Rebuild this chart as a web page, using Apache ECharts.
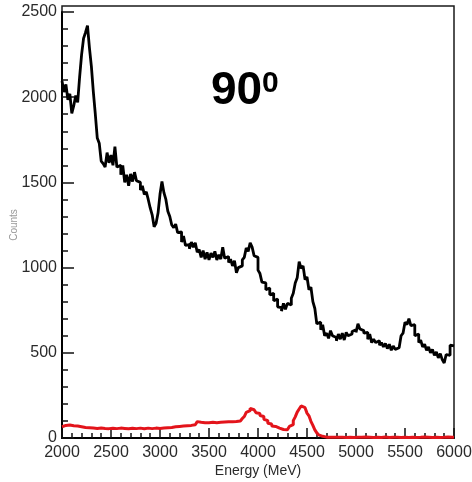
<!DOCTYPE html>
<html>
<head>
<meta charset="utf-8">
<script src="https://cdn.jsdelivr.net/npm/echarts@6/dist/echarts.min.js"></script>
<style>
  html, body { margin: 0; padding: 0; background: #ffffff; }
  #chart { width: 472px; height: 482px; }
</style>
</head>
<body>
<div id="chart"></div>
<script>
// Energy spectrum at 90 degrees: histogram bins of 20 MeV from 2000 to 6000 MeV.
const BIN_START = 2000;
const BIN_WIDTH = 20;

// All events (black), one value per bin
const totalCounts = [
  2095, 2030, 2075, 1985, 2020, 1905, 1950, 2010, 1970, 2120,
  2250, 2345, 2380, 2420, 2290, 2180, 2030, 1900, 1760, 1730,
  1625, 1610, 1590, 1675, 1615, 1660, 1600, 1710, 1590, 1600,
  1545, 1600, 1500, 1545, 1480, 1550, 1505, 1560, 1510, 1500,
  1455, 1480, 1430, 1445, 1400, 1350, 1310, 1240, 1260, 1320,
  1430, 1505, 1440, 1400, 1330, 1300, 1250, 1235, 1255, 1205,
  1210, 1150, 1185, 1130, 1135, 1110, 1150, 1120, 1145, 1090,
  1105, 1060, 1100, 1050, 1090, 1045, 1085, 1060, 1095, 1045,
  1075, 1050, 1120, 1055, 1065, 1030, 1050, 1010, 1040, 970,
  1000, 1010, 1045, 1060, 1115, 1095, 1145, 1120, 1070, 1060,
  985, 965, 915, 910, 870, 880, 840, 850, 805, 815,
  770, 765, 745, 790, 755, 790, 780, 820, 850, 910,
  940, 1035, 995, 1010, 930, 945, 870, 885, 800, 760,
  670, 680, 635, 665, 600, 615, 585, 630, 600, 590,
  570, 610, 580, 615, 575, 620, 600, 610, 625, 635,
  620, 670, 640, 630, 615, 620, 580, 610, 560, 580,
  560, 570, 545, 560, 535, 555, 525, 550, 515, 540,
  520, 530, 525, 600, 615, 680, 665, 700, 660, 665,
  600, 610, 560, 575, 535, 550, 515, 535, 500, 520,
  485, 505, 470, 495, 460, 440, 490, 485, 545, 540
];

// Selected events (red), one value per bin
const selectedCounts = [
  66, 74, 64, 76, 80, 72, 82, 70, 74, 66,
  72, 62, 70, 60, 66, 58, 64, 56, 62, 58,
  64, 56, 62, 55, 63, 57, 65, 55, 62, 58,
  64, 56, 60, 54, 62, 57, 64, 55, 63, 58,
  62, 54, 64, 58, 60, 55, 63, 58, 64, 56,
  64, 58, 67, 60, 68, 62, 70, 66, 72, 68,
  74, 70, 76, 72, 78, 74, 82, 78, 88, 96,
  92, 86, 90, 82, 90, 84, 92, 84, 90, 85,
  92, 86, 94, 88, 96, 90, 95, 92, 97, 94,
  100, 104, 114, 126, 150, 160, 174, 166, 162, 148,
  144, 132, 126, 110, 102, 86, 82, 70, 68, 58,
  58, 50, 50, 46, 48, 55, 68, 78, 102, 124,
  152, 170, 188, 178, 168, 146, 130, 98, 74, 48,
  30, 18, 10, 7, 5, 4, 5, 3, 4, 5,
  4, 3, 5, 4, 3, 5, 4, 6, 3, 4,
  5, 3, 4, 4, 6, 3, 5, 4, 3, 5,
  4, 5, 3, 4, 6, 4, 3, 5, 4, 3,
  5, 4, 3, 6, 4, 5, 3, 4, 5, 4,
  3, 5, 4, 4, 6, 3, 5, 4, 3, 4,
  5, 4, 3, 5, 4, 3, 6, 4, 5, 4
];

// Axis ranges and major tick spacing
const X_RANGE = [2000, 6000];
const Y_RANGE = [0, 2500];
const TICK_STEP = 500;

// Turn bin contents into left-edge points, closing the last bin at its right edge
function toSteps(values) {
  const pts = values.map((v, i) => [BIN_START + i * BIN_WIDTH, v]);
  pts.push([BIN_START + values.length * BIN_WIDTH, values[values.length - 1]]);
  return pts;
}

const FONT = "'Liberation Sans', Arial, Helvetica, sans-serif";
const plain = (v) => String(v);
const chart = echarts.init(document.getElementById('chart'), null, { renderer: 'canvas' });

chart.setOption({
  backgroundColor: '#ffffff',
  animation: false,
  grid: { left: 62, right: 18, top: 12, bottom: 44, containLabel: false, outerBoundsMode: 'none' },
  xAxis: {
    type: 'value',
    min: X_RANGE[0], max: X_RANGE[1], interval: TICK_STEP,
    name: 'Energy (MeV)',
    nameLocation: 'middle',
    nameGap: 26,
    nameMoveOverlap: false,
    nameTextStyle: { fontFamily: FONT, fontSize: 14, color: '#2a2a2a' },
    axisLine: { show: true, onZero: false, lineStyle: { color: '#000', width: 2 } },
    axisTick: { show: true, inside: true, length: 10, lineStyle: { color: '#111', width: 1.5 } },
    minorTick: { show: true, splitNumber: 5, length: 5, lineStyle: { color: '#111', width: 1.5 } },
    axisLabel: { fontFamily: FONT, fontSize: 16, color: '#2a2a2a', margin: 7, formatter: plain },
    splitLine: { show: false }
  },
  yAxis: {
    type: 'value',
    min: Y_RANGE[0], max: Y_RANGE[1], interval: TICK_STEP,
    name: 'Counts',
    nameLocation: 'middle',
    nameRotate: 90,
    nameGap: 43,
    nameMoveOverlap: false,
    nameTextStyle: { fontFamily: FONT, fontSize: 10, color: '#999999' },
    axisLine: { show: true, onZero: false, lineStyle: { color: '#000', width: 2 } },
    axisTick: { show: true, inside: true, length: 12, lineStyle: { color: '#111', width: 1.5 } },
    minorTick: { show: true, splitNumber: 5, length: 6, lineStyle: { color: '#111', width: 1.5 } },
    axisLabel: { fontFamily: FONT, fontSize: 16, color: '#2a2a2a', margin: 5, formatter: plain },
    splitLine: { show: false }
  },
  graphic: [
    {
      type: 'rect', z: 0, silent: true,
      shape: { x: 62, y: 6, width: 392, height: 432 },
      style: { fill: 'none', stroke: '#1a1a1a', lineWidth: 1.5 }
    },
    {
      type: 'text', z: 10, left: 211, top: 68,
      style: { text: '90', fontFamily: FONT, fontWeight: 'bold', fontSize: 46, fill: '#000' }
    },
    {
      type: 'text', z: 10, left: 262, top: 69,
      style: { text: '0', fontFamily: FONT, fontWeight: 'bold', fontSize: 30, fill: '#000' }
    }
  ],
  series: [
    {
      name: 'all',
      type: 'line',
      step: 'end',
      showSymbol: false,
      data: toSteps(totalCounts),
      lineStyle: { color: '#000', width: 2.8 },
      z: 3
    },
    {
      name: 'selected',
      type: 'line',
      step: 'end',
      showSymbol: false,
      data: toSteps(selectedCounts),
      lineStyle: { color: '#e3141b', width: 3 },
      z: 4
    }
  ]
});
</script>
</body>
</html>
